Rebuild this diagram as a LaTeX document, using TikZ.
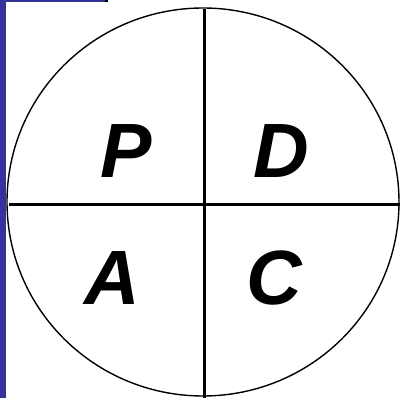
\documentclass[tikz,border=0pt]{standalone}
\usepackage{fontspec}
\setmainfont{Liberation Sans}
\definecolor{barblue}{HTML}{333399}

\begin{document}
\begin{tikzpicture}[
  x=1pt, y=-1pt,
  bar/.style={fill=barblue, draw=none},
  rim/.style={draw=black, line width=1.4pt},
  split/.style={draw=black, line width=3pt},
  letter/.style={anchor=base, inner sep=0pt,
    font=\fontsize{77}{77}\selectfont\bfseries\itshape}
]
\useasboundingbox (0,0) rectangle (400,398);

% side bars
\fill[bar] (0,0) rectangle (6,398);
\fill[bar] (0,0) rectangle (105,1.6);
\fill[black] (105,0) rectangle (108,1.6);

% wheel
\draw[rim] (203,202) ellipse [x radius=196, y radius=194];

\coordinate (top) at (204,9);
\coordinate (bottom) at (204,398);
\coordinate (left) at (9,205);
\coordinate (right) at (400,205);
\draw[split] (top) -- (bottom);
\draw[split] (left) -- (right);

% letters
\node[letter] (plan) at (126,178) {P};
\node[letter] (do) at (281,178) {D};
\node[letter] (act) at (112,305) {A};
\node[letter] (check) at (274,305) {C};

\end{tikzpicture}
\end{document}
